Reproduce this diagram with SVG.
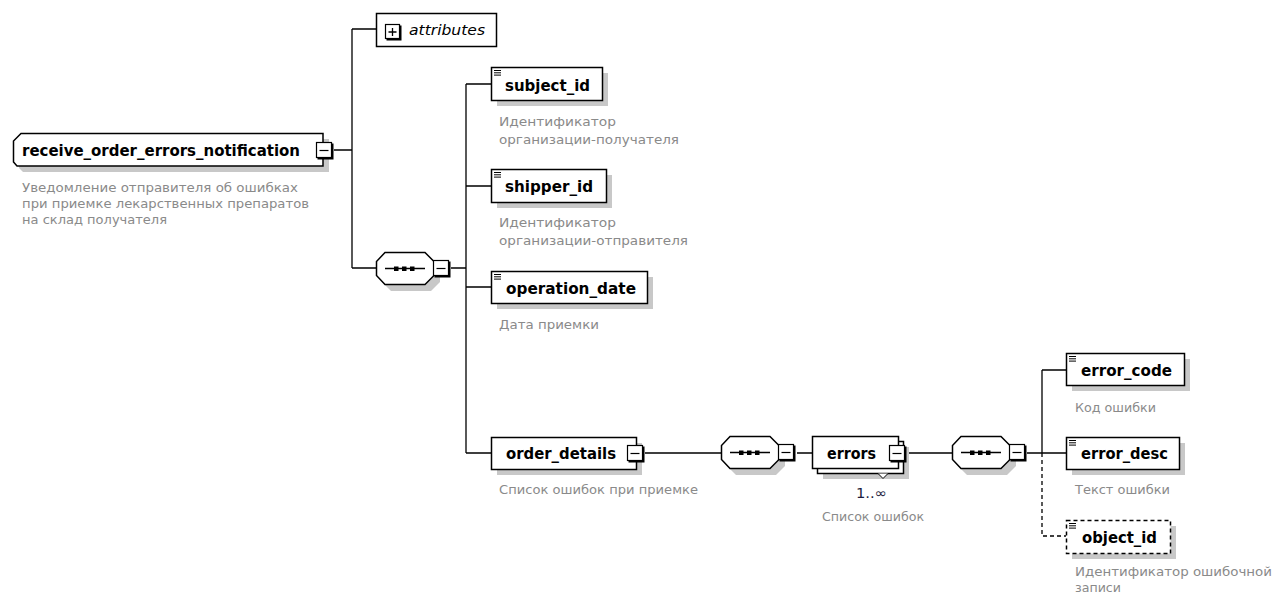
<svg xmlns="http://www.w3.org/2000/svg" xmlns:xlink="http://www.w3.org/1999/xlink" width="1274" height="598" viewBox="0 0 1274 598">
<style>
.bg{fill:#fff}
.box{fill:#fff;stroke:#000;stroke-width:1.5}
.dbox{fill:#fff;stroke:#000;stroke-width:1.5;stroke-dasharray:4 3}
.sh{fill:#c8c8c8}
.lbl{font-family:"DejaVu Sans","Liberation Sans",sans-serif;font-weight:bold;font-size:16.5px;fill:#000}
.att{font-family:"DejaVu Sans","Liberation Sans",sans-serif;font-style:italic;font-size:13.5px;fill:#000}
.desc{font-family:"DejaVu Sans","Liberation Sans",sans-serif;font-size:13px;fill:#8a8a8a}
.occ{font-family:"DejaVu Sans","Liberation Sans",sans-serif;font-size:14px;fill:#1c1c40}
.con{fill:none;stroke:#000;stroke-width:1.3}
.dcon{fill:none;stroke:#000;stroke-width:1.3;stroke-dasharray:4 3}
</style>
<defs>
<g id="minus"><rect x="0.5" y="0.5" width="15" height="15" fill="#fff" stroke="#000" stroke-width="1.2"/><path d="M16.5,1.5 V16.5 H1.5" fill="none" stroke="#000" stroke-width="2"/><path d="M3.5,8.5 H12.5" stroke="#000" stroke-width="1.2"/></g>
<g id="plus"><rect x="0.5" y="0.5" width="14" height="14" fill="#fff" stroke="#000" stroke-width="1.2"/><path d="M15.5,1.5 V15.5 H1.5" fill="none" stroke="#000" stroke-width="2"/><path d="M3.5,8 H11.5 M7.5,4 V12" stroke="#000" stroke-width="1.3"/></g>
<g id="ico"><path d="M0,0.5 H7 M0,2.8 H7 M0,5.1 H7" stroke="#000" stroke-width="1"/></g>
<g id="seq">
<polygon class="sh" points="15,6 55,6 64,15 64,30 55,39 15,39 6,30 6,15"/>
<polygon class="box" points="9,0.5 49,0.5 58,9.5 58,23.5 49,32.5 9,32.5 0.5,23.5 0.5,9.5"/>
<path d="M9,16.5 H49" stroke="#000" stroke-width="1.3"/>
<rect x="18" y="14.5" width="4.5" height="4.5" fill="#000"/>
<rect x="26" y="14.5" width="4.5" height="4.5" fill="#000"/>
<rect x="34" y="14.5" width="4.5" height="4.5" fill="#000"/>
<use xlink:href="#minus" x="57" y="8"/>
</g>
</defs>
<rect class="bg" x="0" y="0" width="1274" height="598"/>

<g id="connectors">
<path class="con" d="M334,150 H352 M352,29 V268 M352,29 H376 M352,268 H376"/>
<path class="con" d="M451,268 H466 M466,84 V453 M466,84 H491 M466,186 H491 M466,287 H491 M466,453 H491"/>
<path class="con" d="M645,453 H721 M797,453 H812 M907,453 H952"/>
<path class="con" d="M1027,453 H1066 M1042,370 V453 M1042,370 H1066"/>
<path class="dcon" d="M1042,453 V536 H1066"/>
</g>

<g id="node-root">
<path class="sh" d="M27,139 H329 V172 H23 L19,168 V147 Z"/>
<path class="box" d="M21,133.5 H323 V166 H17 L13.5,162 V141 Z"/>
<text class="lbl" x="22" y="156" textLength="278" lengthAdjust="spacingAndGlyphs">receive_order_errors_notification</text>
<use xlink:href="#minus" x="316" y="142"/>
<text class="desc" x="22" y="192" textLength="276" lengthAdjust="spacingAndGlyphs">Уведомление отправителя об ошибках</text>
<text class="desc" x="22" y="208" textLength="287" lengthAdjust="spacingAndGlyphs">при приемке лекарственных препаратов</text>
<text class="desc" x="22" y="224" textLength="145" lengthAdjust="spacingAndGlyphs">на склад получателя</text>
</g>

<g id="node-attributes">
<rect class="box" x="376.5" y="13.5" width="120" height="33"/>
<use xlink:href="#plus" x="385" y="24"/>
<text class="att" x="409" y="35" textLength="76" lengthAdjust="spacingAndGlyphs">attributes</text>
</g>

<g id="node-seq1"><use xlink:href="#seq" x="376" y="252"/></g>

<g id="node-subject_id">
<rect class="sh" x="497" y="73" width="111" height="33"/>
<rect class="box" x="491.5" y="67.5" width="111" height="33"/>
<use xlink:href="#ico" x="494" y="70"/>
<text class="lbl" x="505" y="91" textLength="85" lengthAdjust="spacingAndGlyphs">subject_id</text>
<text class="desc" x="499" y="126" textLength="117" lengthAdjust="spacingAndGlyphs">Идентификатор</text>
<text class="desc" x="499" y="144" textLength="180" lengthAdjust="spacingAndGlyphs">организации-получателя</text>
</g>

<g id="node-shipper_id">
<rect class="sh" x="497" y="175" width="115" height="33"/>
<rect class="box" x="491.5" y="169.5" width="115" height="33"/>
<use xlink:href="#ico" x="494" y="172"/>
<text class="lbl" x="505" y="192" textLength="88" lengthAdjust="spacingAndGlyphs">shipper_id</text>
<text class="desc" x="499" y="227" textLength="117" lengthAdjust="spacingAndGlyphs">Идентификатор</text>
<text class="desc" x="499" y="245" textLength="189" lengthAdjust="spacingAndGlyphs">организации-отправителя</text>
</g>

<g id="node-operation_date">
<rect class="sh" x="497" y="277" width="156" height="32"/>
<rect class="box" x="491.5" y="271.5" width="156" height="32"/>
<use xlink:href="#ico" x="494" y="274"/>
<text class="lbl" x="506" y="294" textLength="130" lengthAdjust="spacingAndGlyphs">operation_date</text>
<text class="desc" x="499" y="329" textLength="100" lengthAdjust="spacingAndGlyphs">Дата приемки</text>
</g>

<g id="node-order_details">
<rect class="sh" x="497" y="443" width="145" height="32"/>
<rect class="box" x="491.5" y="437.5" width="145" height="32"/>
<text class="lbl" x="506" y="459" textLength="110" lengthAdjust="spacingAndGlyphs">order_details</text>
<use xlink:href="#minus" x="627" y="445"/>
<text class="desc" x="499" y="494" textLength="199" lengthAdjust="spacingAndGlyphs">Список ошибок при приемке</text>
</g>

<g id="node-seq2"><use xlink:href="#seq" x="721" y="436"/></g>

<g id="node-errors">
<rect class="sh" x="823" y="447" width="86" height="32"/>
<rect class="box" x="817.5" y="441.5" width="86" height="32"/>
<path d="M878,473.5 L883,478.5 L888,473.5" fill="#fff" stroke="#000" stroke-width="1"/>
<rect class="box" x="812.5" y="436.5" width="86" height="32"/>
<text class="lbl" x="827" y="459" textLength="49" lengthAdjust="spacingAndGlyphs">errors</text>
<use xlink:href="#minus" x="889" y="445"/>
<text class="occ" x="856" y="498" textLength="31" lengthAdjust="spacingAndGlyphs">1..∞</text>
<text class="desc" x="822" y="521" textLength="102" lengthAdjust="spacingAndGlyphs">Список ошибок</text>
</g>

<g id="node-seq3"><use xlink:href="#seq" x="952" y="436"/></g>

<g id="node-error_code">
<rect class="sh" x="1072" y="359" width="118" height="32"/>
<rect class="box" x="1066.5" y="353.5" width="118" height="32"/>
<use xlink:href="#ico" x="1069" y="356"/>
<text class="lbl" x="1081" y="376" textLength="91" lengthAdjust="spacingAndGlyphs">error_code</text>
<text class="desc" x="1075" y="412" textLength="81" lengthAdjust="spacingAndGlyphs">Код ошибки</text>
</g>

<g id="node-error_desc">
<rect class="sh" x="1072" y="443" width="113" height="32"/>
<rect class="box" x="1066.5" y="437.5" width="113" height="32"/>
<use xlink:href="#ico" x="1069" y="440"/>
<text class="lbl" x="1081" y="459" textLength="87" lengthAdjust="spacingAndGlyphs">error_desc</text>
<text class="desc" x="1075" y="494" textLength="95" lengthAdjust="spacingAndGlyphs">Текст ошибки</text>
</g>

<g id="node-object_id">
<rect class="sh" x="1072" y="526" width="104" height="33"/>
<rect class="dbox" x="1066.5" y="520.5" width="104" height="33"/>
<use xlink:href="#ico" x="1069" y="523"/>
<text class="lbl" x="1082" y="543" textLength="75" lengthAdjust="spacingAndGlyphs">object_id</text>
<text class="desc" x="1075" y="576" textLength="197" lengthAdjust="spacingAndGlyphs">Идентификатор ошибочной</text>
<text class="desc" x="1075" y="592" textLength="46" lengthAdjust="spacingAndGlyphs">записи</text>
</g>
</svg>
